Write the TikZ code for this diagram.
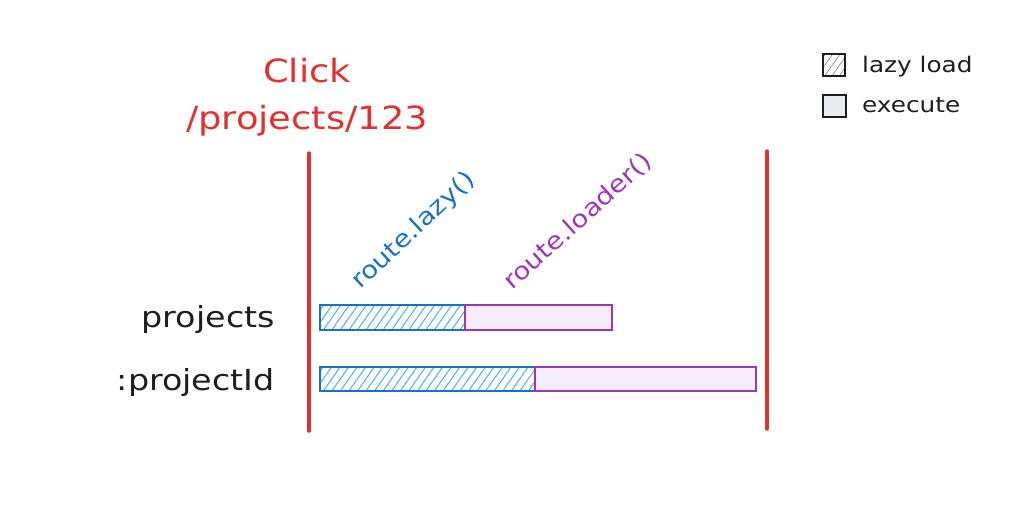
\documentclass[tikz,border=0pt]{standalone}
\usepackage{fontspec}
\newfontfamily\hand[FakeStretch=1.15]{DejaVu Sans}
\usetikzlibrary{patterns.meta}
\definecolor{cred}{HTML}{E03131}
\definecolor{cblue}{HTML}{1971C2}
\definecolor{chatch}{HTML}{4DABF7}
\definecolor{cpurple}{HTML}{9C36B5}
\definecolor{cpfill}{HTML}{F5EDFB}
\definecolor{cdark}{HTML}{1E1E1E}
\definecolor{cgray}{HTML}{E9ECEF}
\begin{document}
\begin{tikzpicture}[x=1pt,y=-1pt,
  redline/.style={draw=cred,line width=3.5pt,line cap=round},
  lazybar/.style={draw=cblue,line width=2.8pt,pattern={Lines[angle=55,distance=7pt,line width=1pt]},pattern color=chatch},
  execbar/.style={draw=cpurple,line width=2.8pt,fill=cpfill},
  rowlabel/.style={anchor=base east,font=\hand\fontsize{29}{34}\selectfont,text=cdark,inner sep=0pt},
  title/.style={anchor=base,font=\hand\fontsize{32}{38}\selectfont,text=cred,inner sep=0pt},
  fnlabel/.style={anchor=base west,font=\hand\fontsize{24}{28}\selectfont,inner sep=0pt},
  legbox/.style={draw=cdark,line width=2.2pt},
  legtext/.style={anchor=base west,font=\hand\fontsize{21.5}{26}\selectfont,text=cdark,inner sep=0pt}]
\useasboundingbox (0,0) rectangle (1035,511);
% title
\node[title] (click) at (307,82) {Click};
\node[title] (url) at (307,129) {/projects/123};
% red timeline markers
\coordinate (l1) at (309,153); \coordinate (l2) at (309,431);
\coordinate (r1) at (767,151); \coordinate (r2) at (767,429);
\draw[redline] (l1) -- (l2);
\draw[redline] (r1) -- (r2);
% row labels
\node[rowlabel] (projects) at (275,327) {projects};
\node[rowlabel] (projectid) at (275,390) {:projectId};
% bars
\path[lazybar] (320,305) rectangle (465,330);
\path[execbar] (465,305) rectangle (612,330);
\path[lazybar] (320,367) rectangle (535,391);
\path[execbar] (535,367) rectangle (756,391);
% rotated labels
\node[fnlabel,rotate=43,text=cblue] (lazy) at (360,290) {route.lazy()};
\node[fnlabel,rotate=42,text=cpurple] (loader) at (512,291) {route.loader()};
% legend
\path[legbox,pattern={Lines[angle=55,distance=6pt,line width=0.6pt]},pattern color=gray] (823,54) rectangle (845,76);
\node[legtext] (lazyload) at (862,73) {lazy load};
\path[legbox,fill=cgray] (823,95) rectangle (846,117);
\node[legtext] (execute) at (862,112) {execute};
\end{tikzpicture}
\end{document}
